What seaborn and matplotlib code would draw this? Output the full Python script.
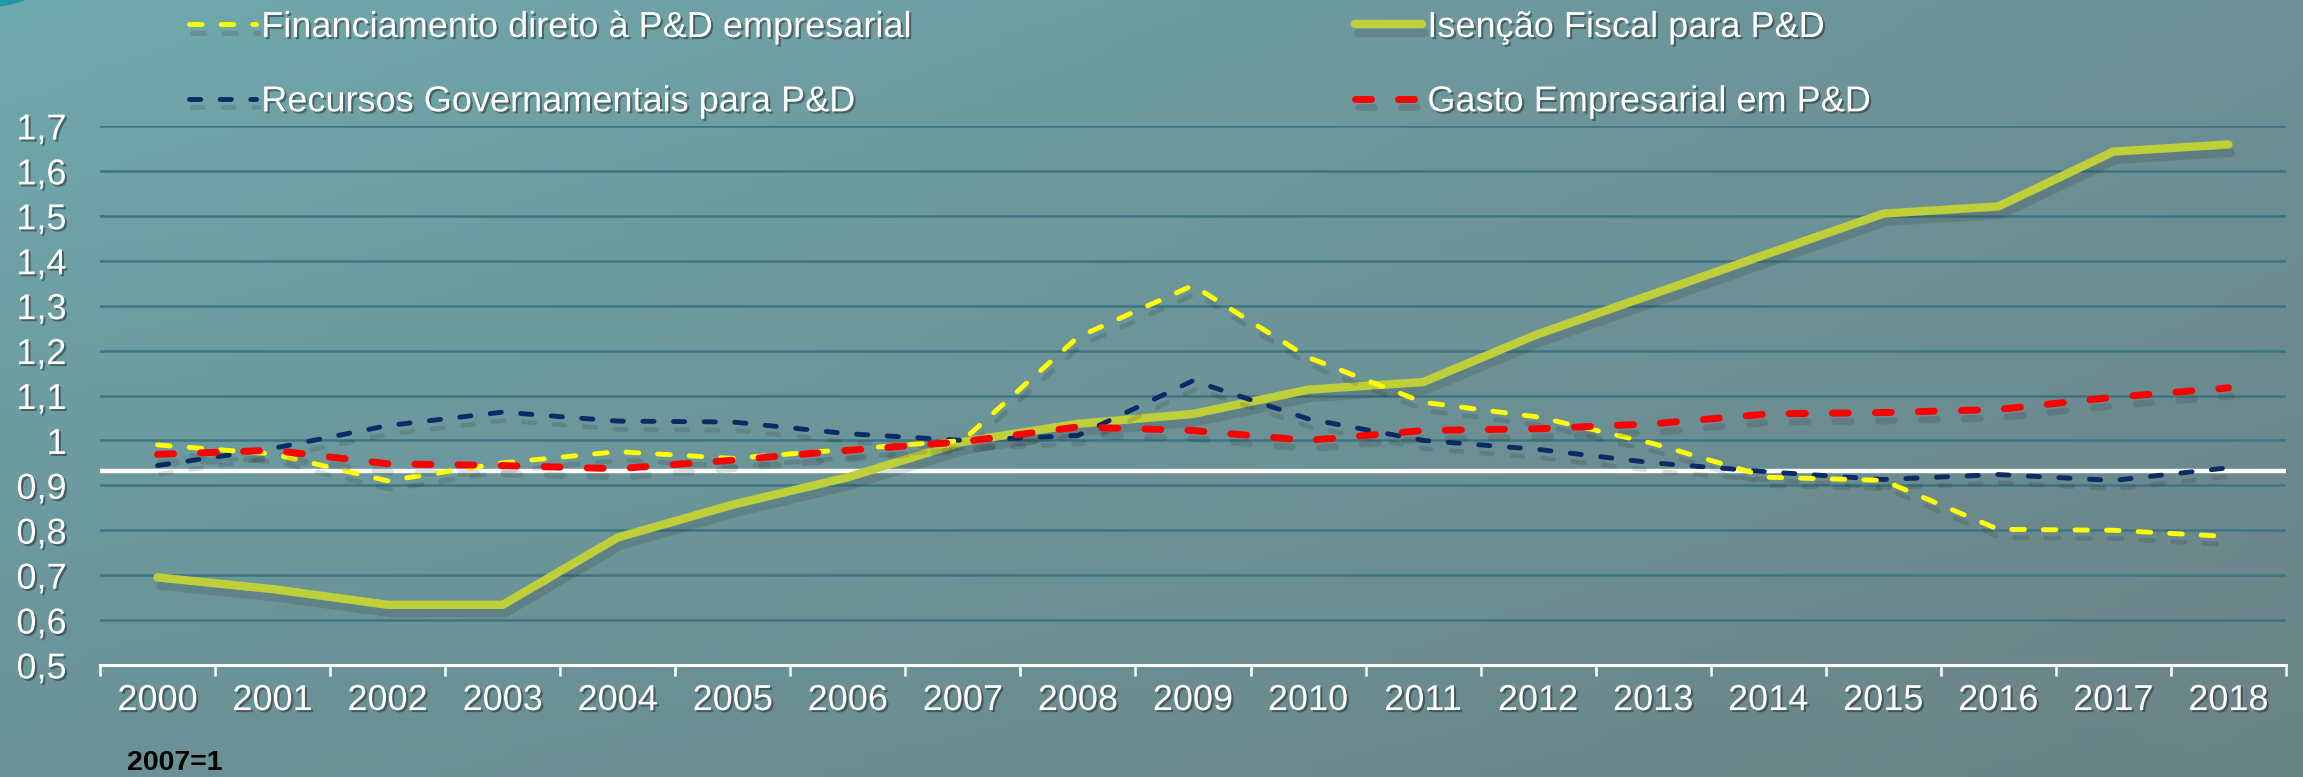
import numpy as np
import matplotlib
matplotlib.use("Agg")
import matplotlib.pyplot as plt
import matplotlib.patheffects as pe
from matplotlib.patches import Circle
import seaborn as sns
import pandas as pd

# data (2007 = 1)
anos = ["2000", "2001", "2002", "2003", "2004", "2005", "2006", "2007", "2008", "2009",
        "2010", "2011", "2012", "2013", "2014", "2015", "2016", "2017", "2018"]
financiamento = [0.99, 0.97, 0.91, 0.95, 0.975, 0.96, 0.98, 1.0, 1.23, 1.345,
                 1.185, 1.085, 1.052, 0.993, 0.918, 0.911, 0.802, 0.80, 0.786]
recursos = [0.944, 0.982, 1.033, 1.063, 1.043, 1.041, 1.015, 1.0, 1.011, 1.133,
            1.048, 1.0, 0.98, 0.95, 0.93, 0.913, 0.924, 0.911, 0.939]
isencao = [0.695, 0.669, 0.634, 0.634, 0.784, 0.857, 0.918, 0.997, 1.037, 1.059,
           1.113, 1.13, 1.237, 1.326, 1.416, 1.505, 1.521, 1.643, 1.659]
gasto = [0.969, 0.978, 0.948, 0.944, 0.937, 0.956, 0.978, 0.997, 1.03, 1.022,
         1.0, 1.022, 1.026, 1.037, 1.059, 1.062, 1.069, 1.096, 1.117]
linha_ref = 0.933
yticks = [0.5, 0.6, 0.7, 0.8, 0.9, 1.0, 1.1, 1.2, 1.3, 1.4, 1.5, 1.6, 1.7]

nomes = ["Financiamento direto à P&D empresarial", "Recursos Governamentais para P&D",
         "Isenção Fiscal para P&D", "Gasto Empresarial em P&D"]

df = pd.DataFrame({"pos": np.arange(len(anos)),
                   nomes[0]: financiamento, nomes[1]: recursos,
                   nomes[2]: isencao, nomes[3]: gasto})

sns.set_theme(style="white")
plt.rcParams["font.family"] = ["Liberation Sans", "DejaVu Sans"]

W, H = 2303, 777
fig = plt.figure(figsize=(W / 100, H / 100), dpi=100)

# background gradient
bg = fig.add_axes([0, 0, 1, 1], zorder=0)
tl = np.array([0x70, 0xa9, 0xad]) / 255
tr = np.array([0x6c, 0x90, 0x96]) / 255
bl = np.array([0x6a, 0x92, 0x97]) / 255
br = np.array([0x6b, 0x84, 0x87]) / 255
u = np.linspace(0, 1, 200)[None, :, None]
v = np.linspace(0, 1, 80)[:, None, None]
grad = (1 - v) * ((1 - u) * tl + u * tr) + v * ((1 - u) * bl + u * br)
bg.imshow(grad, aspect="auto", extent=[0, 1, 0, 1], origin="upper")
bg.add_patch(Circle((-0.012, 1.02), 0.03, transform=bg.transAxes, color="#1d9aa5"))
bg.add_patch(Circle((-0.006, -0.03), 0.016, transform=bg.transAxes, color="#1d8a96"))
bg.set_xlim(0, 1)
bg.set_ylim(0, 1)
bg.axis("off")

ax = fig.add_axes([100 / W, 1 - 665 / H, (2286 - 100) / W, (665 - 126) / H], zorder=1)
ax.patch.set_alpha(0)

sombra = [pe.SimpleLineShadow(offset=(2, -6), shadow_color="k", alpha=0.14), pe.Normal()]

estilos = {
    nomes[2]: dict(color="#bfcf3a", lw=6.0, dashes=None),
    nomes[1]: dict(color="#0b2a66", lw=3.5, dashes=(2.3, 4.0)),
    nomes[0]: dict(color="#ffff00", lw=3.5, dashes=(2.6, 3.9)),
    nomes[3]: dict(color="#ff0000", lw=5.0, dashes=(2.3, 3.9)),
}

linhas = {}
for nome in [nomes[2], nomes[1], nomes[0], nomes[3]]:
    st = estilos[nome]
    sns.lineplot(data=df, x="pos", y=nome, ax=ax, color=st["color"], lw=st["lw"], label=nome)
    ln = ax.lines[-1]
    if st["dashes"] is not None:
        ln.set_dashes(st["dashes"])
        ln.set_dash_capstyle("round")
    else:
        ln.set_solid_capstyle("round")
        ln.set_solid_joinstyle("miter")
    ln.set_path_effects(sombra)
    linhas[nome] = ln

ax.axhline(linha_ref, color="white", lw=3.2, zorder=1.5)

ax.set_xlim(-0.5, len(anos) - 0.5)
ax.set_ylim(0.5, 1.7)
ax.set_yticks(yticks)
ax.set_yticklabels([("%g" % t).replace(".", ",") for t in yticks])
ax.set_xticks(np.arange(-0.5, len(anos)), labels=[""] * (len(anos) + 1))
ax.set_xticks(np.arange(len(anos)), labels=anos, minor=True)
ax.set_xlabel("")
ax.set_ylabel("")

ax.grid(axis="y", color="#3d7583", lw=1.8)
ax.grid(axis="x", visible=False)
for s in ["top", "right", "left"]:
    ax.spines[s].set_visible(False)
ax.spines["bottom"].set_color("white")
ax.spines["bottom"].set_linewidth(2.2)
ax.spines["bottom"].set_zorder(3)

txt_sombra = [pe.SimplePatchShadow(offset=(1.5, -1.5), shadow_rgbFace="k", alpha=0.45), pe.Normal()]
ax.tick_params(axis="x", which="major", direction="out", length=8, width=1.8, color="white", bottom=True)
ax.tick_params(axis="x", which="minor", length=0, pad=13, labelsize=26, labelcolor="white", bottom=True)
ax.tick_params(axis="y", length=0, pad=24, labelsize=26, labelcolor="white")
for t in ax.get_xticklabels(minor=True) + ax.get_yticklabels():
    t.set_path_effects(txt_sombra)

ax.get_legend().remove()
handles = [linhas[n] for n in nomes]
leg = fig.legend(handles, nomes, loc="upper left", bbox_to_anchor=(189 / W, 1 - 10 / H),
                 ncol=2, frameon=False, fontsize=26, handlelength=1.85, handletextpad=0.15,
                 columnspacing=12.3, labelspacing=1.09, borderpad=0, borderaxespad=0)
for t in leg.get_texts():
    t.set_color("white")
    t.set_path_effects(txt_sombra)

fig.text(127 / W, 1 - 763 / H, "2007=1", fontsize=20.5, fontweight="bold", color="black",
         va="center", ha="left")

fig.savefig("out.png", dpi=100)
